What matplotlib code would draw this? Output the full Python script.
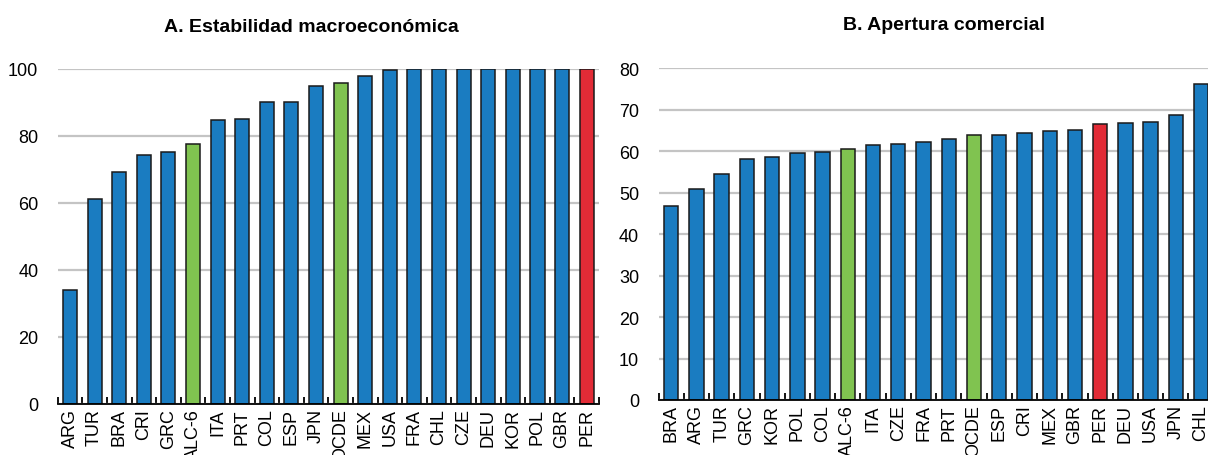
import matplotlib
matplotlib.use("Agg")
import matplotlib.pyplot as plt
from matplotlib.ticker import FixedLocator

plt.rcParams['font.family'] = ['Liberation Sans', 'DejaVu Sans']

# Panel A data
a_labels = ["ARG", "TUR", "BRA", "CRI", "GRC", "ALC-6", "ITA", "PRT", "COL", "ESP", "JPN",
            "OCDE", "MEX", "USA", "FRA", "CHL", "CZE", "DEU", "KOR", "POL", "GBR", "PER"]
a_values = [33.9, 61.2, 69.4, 74.4, 75.1, 77.5, 84.8, 85.1, 90.1, 90.1, 94.9,
            95.9, 97.8, 99.7, 100, 100, 100, 100, 100, 100, 100, 100]

# Panel B data
b_labels = ["BRA", "ARG", "TUR", "GRC", "KOR", "POL", "COL", "ALC-6", "ITA", "CZE", "FRA",
            "PRT", "OCDE", "ESP", "CRI", "MEX", "GBR", "PER", "DEU", "USA", "JPN", "CHL"]
b_values = [46.7, 51.0, 54.6, 58.2, 58.6, 59.5, 59.8, 60.6, 61.6, 61.7, 62.2,
            63.0, 63.9, 64.0, 64.5, 64.8, 65.0, 66.5, 66.8, 67.0, 68.8, 76.3]

BLUE = "#1a7cc1"
GREEN = "#80c350"
RED = "#e22b36"
GRID = "#c4c4c4"


def colour_for(lbl):
    if lbl in ("ALC-6", "OCDE"):
        return GREEN
    if lbl == "PER":
        return RED
    return BLUE


fig = plt.figure(figsize=(12.08, 4.56), dpi=100)

W, H = 1208.0, 456.0
axA = fig.add_axes([57.7 / W, (H - 405) / H, 541.3 / W, 335 / H])
axB = fig.add_axes([658.6 / W, (H - 401) / H, 555.1 / W, 331.7 / H])


def draw(ax, labels, values, ymax, ystep):
    x = list(range(len(labels)))
    ax.bar(x, values, width=0.57, color=[colour_for(l) for l in labels],
           edgecolor="#1a1a1a", linewidth=1.1, zorder=3)
    ax.set_xlim(-0.5, len(labels) - 0.5)
    ax.set_ylim(0, ymax)
    ax.set_yticks(list(range(0, ymax + 1, ystep)))
    ax.yaxis.grid(True, color=GRID, linewidth=1.6, zorder=0)
    ax.set_axisbelow(True)
    for s in ("top", "right", "left"):
        ax.spines[s].set_visible(False)
    ax.spines["bottom"].set_linewidth(1.3)
    ax.spines["bottom"].set_zorder(4)
    ax.set_xticks(x)
    ax.set_xticklabels(labels, rotation=90, fontsize=13, va="top")
    ax.tick_params(axis="x", which="major", length=0, pad=3)
    ax.xaxis.set_minor_locator(FixedLocator([i - 0.5 for i in range(len(labels) + 1)]))
    ax.tick_params(axis="x", which="minor", direction="in", length=5, width=1.3)
    ax.tick_params(axis="y", length=0, labelsize=13, pad=14)


draw(axA, a_labels, a_values, 100, 20)
draw(axB, b_labels, b_values, 80, 10)

fig.text(311 / W, 1 - 28 / H, "A. Estabilidad macroeconómica", ha="center", va="center",
         fontsize=14, fontweight="bold")
fig.text(944 / W, 1 - 25 / H, "B. Apertura comercial", ha="center", va="center",
         fontsize=14, fontweight="bold")

fig.savefig("out.png", dpi=100)
